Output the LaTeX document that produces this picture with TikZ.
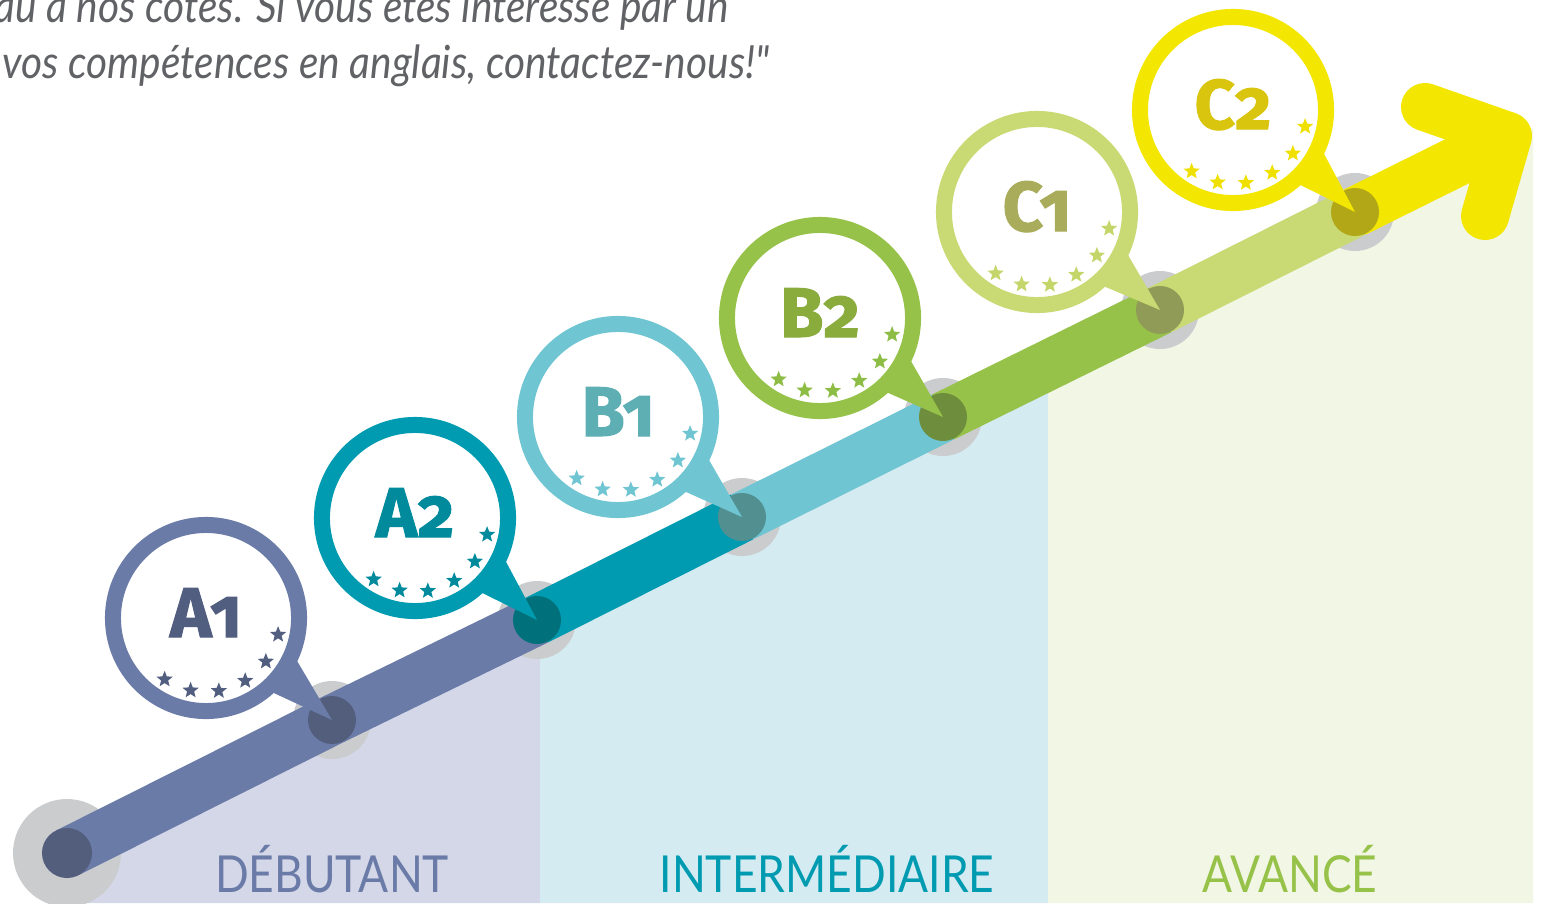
\documentclass[tikz,border=0pt]{standalone}
\usepackage{fontspec}
\usetikzlibrary{shapes.geometric}
\newfontfamily\quotefont{Lato}[FakeStretch=0.89]
\newfontfamily\bandfont{Lato}[FakeStretch=0.87]
\newfontfamily\levelfont{Fira Sans}[Numbers=OldStyle, BoldFeatures={FakeBold=1.5}]

\definecolor{quotegray}{HTML}{606266}
\definecolor{halogray}{HTML}{CBCCCE}
\definecolor{banddeb}{HTML}{D3D7E8}
\definecolor{bandint}{HTML}{D5EBF2}
\definecolor{bandava}{HTML}{F2F6E5}
% ring / text / star / dot colours per level
\definecolor{ringa1}{HTML}{6A7BA8}\definecolor{texta1}{HTML}{525E80}\definecolor{stara1}{HTML}{525E80}\definecolor{dota1}{HTML}{525E7C}
\definecolor{ringa2}{HTML}{009BB0}\definecolor{texta2}{HTML}{008A9C}\definecolor{stara2}{HTML}{008A9C}\definecolor{dota2}{HTML}{00707A}
\definecolor{ringb1}{HTML}{6FC5D1}\definecolor{textb1}{HTML}{5DAFB4}\definecolor{starb1}{HTML}{6FC5D1}\definecolor{dotb1}{HTML}{528F91}
\definecolor{ringb2}{HTML}{97C24A}\definecolor{textb2}{HTML}{89AC3D}\definecolor{starb2}{HTML}{8DBD45}\definecolor{dotb2}{HTML}{6F8E3D}
\definecolor{ringc1}{HTML}{C9DA74}\definecolor{textc1}{HTML}{A9AD5B}\definecolor{starc1}{HTML}{C4D66A}\definecolor{dotc1}{HTML}{8F9B56}
\definecolor{ringc2}{HTML}{F3E600}\definecolor{textc2}{HTML}{D9C40E}\definecolor{starc2}{HTML}{F0E000}\definecolor{dotc2}{HTML}{B2A717}

\begin{document}
\begin{tikzpicture}[
            x=0.01cm, y=-0.01cm,
            quote/.style={font=\quotefont\itshape\fontsize{13}{15}\selectfont, text=quotegray, anchor=base west, inner sep=0pt},
            bandlabel/.style={font=\bandfont\fontsize{14.5}{16}\selectfont, anchor=base, inner sep=0pt},
            segment/.style={line width=0.5cm},
            dotmark/.style={circle, inner sep=0pt, minimum size=0.48cm},
            bubble/.style={circle, draw, fill=white, line width=0.16cm, minimum size=1.86cm, inner sep=0pt, outer sep=0pt},
            level/.style={font=\levelfont\bfseries\fontsize{20}{20}\selectfont, anchor=base, inner sep=0pt},
            stardot/.style={star, star points=5, star point ratio=2.3, minimum size=0.17cm, inner sep=0pt}
            ]
            \useasboundingbox (0,0) rectangle (1543,903);
            \clip (0,0) rectangle (1543,903);

            % Quote
            \node[quote] (quote1) at (-6,22) {au à nos côtés. Si vous êtes intéressé par un};
            \node[quote] (quote2) at (2,78) {vos compétences en anglais, contactez-nous!"};

            % Path points
            \coordinate (start) at (67,853);
            \coordinate (pa1) at (332,720);
            \coordinate (pa2) at (537,620);
            \coordinate (pb1) at (742,517);
            \coordinate (pb2) at (943,417);
            \coordinate (pc1) at (1160,310);
            \coordinate (pc2) at (1355,212);
            \coordinate (tip) at (1508,136);
            \coordinate (barbup) at (1425,107);
            \coordinate (barbdown) at (1485,216);

            % Bands
            \fill[banddeb] (start) -- (540,619) -- (540,903) -- (67,903) -- cycle;
            \fill[bandint] (540,619) -- (1048,368) -- (1048,903) -- (540,903) -- cycle;
            \fill[bandava] (1048,368) -- (1533,128) -- (1533,903) -- (1048,903) -- cycle;
            \node[bandlabel, text=ringa1] (debutant) at (332,892) {DÉBUTANT};
            \node[bandlabel, text=ringa2] (intermediaire) at (827,892) {INTERMÉDIAIRE};
            \node[bandlabel, text=ringb2] (avance) at (1290,892) {AVANCÉ};

            % Halos
            \fill[halogray] (start) circle (54);
            \foreach \lv in {a1,a2,b1,b2,c1,c2}
                \fill[halogray] (p\lv) circle (39);

            % Path segments and arrow
            \draw[segment, ringa1] (start) -- (pa1) -- (pa2);
            \foreach \a/\b in {a2/b1, b1/b2, b2/c1, c1/c2}
                \draw[segment, ring\a] (p\a) -- (p\b);
            \draw[segment, ringc2] (pc2) -- (tip);
            \draw[segment, ringc2, line width=0.48cm, line cap=round, line join=round] (barbup) -- (tip) -- (barbdown);

            % Dots
            \node[dotmark, fill=dota1, minimum size=0.5cm] (dstart) at (start) {};
            \foreach \lv in {a1,a2,b1,b2,c1,c2}
                \node[dotmark, fill=dot\lv] (d\lv) at (p\lv) {};

            % Bubbles
            \foreach \lv/\cx/\cy/\lbl in {a1/206/618/A1, a2/415/518/A2, b1/618/417/B1, b2/820/318/B2, c1/1037/212/C1, c2/1233/110/C2}{
                \node[bubble, draw=ring\lv] (b\lv) at (\cx,\cy) {};
                \fill[ring\lv] (b\lv.-22) -- (d\lv.center) -- (b\lv.-50) -- cycle;
                \node[level, text=text\lv] (t\lv) at (\cx,\cy+19) {\lbl};
                \foreach \ang [count=\k] in {124,102,80,58,36,13}
                    \node[stardot, fill=star\lv] (s\lv\k) at ([shift={(\ang:74)}]\cx,\cy) {};
            }

        \end{tikzpicture}
\end{document}
